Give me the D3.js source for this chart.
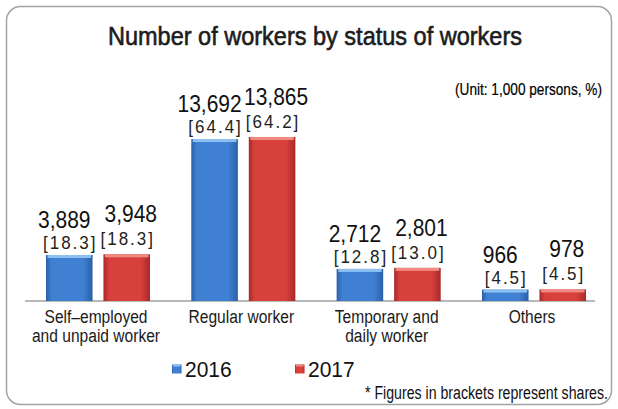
<!DOCTYPE html>
<html>
<head>
<meta charset="utf-8">
<script src="https://cdn.jsdelivr.net/npm/d3@7"></script>
<style>
  html, body { margin: 0; padding: 0; background: #fff; }
  svg { display: block; }
</style>
</head>
<body>
<script>
'use strict';

// chart values
const categories = [
  ["Self\u2013employed", "and unpaid worker"],
  ["Regular worker"],
  ["Temporary and", "daily worker"],
  ["Others"]
];
const years = ["2016", "2017"];
const workers2016 = [3889, 13692, 2712, 966];
const workers2017 = [3948, 13865, 2801, 978];
const shares2016 = ["18.3", "64.4", "12.8", "4.5"];
const shares2017 = ["18.3", "64.2", "13.0", "4.5"];

// no narrow face is installed, so narrow text is squeezed horizontally
const narrow = "'Liberation Sans Narrow', 'Arial Narrow', 'Liberation Sans', sans-serif";
const plain = "'Liberation Sans', Arial, sans-serif";

const svg = d3.select('body')
  .append('svg')
  .attr('width', 618)
  .attr('height', 409);

// gradients for the bevelled bars
const defs = svg.append('defs');
const palette = {
  "2016": { edge: "#2a5fa8", mid: "#3f80d2", top: "#8cc0f0" },
  "2017": { edge: "#a8282a", mid: "#d8403b", top: "#f08a80" }
};
years.forEach((yr) => {
  let g = defs.append('linearGradient')
    .attr('id', 'grad' + yr)
    .attr('x1', '0%').attr('x2', '100%')
    .attr('y1', '0%').attr('y2', '0%');
  g.append('stop').attr('offset', '0%').attr('stop-color', palette[yr].edge);
  g.append('stop').attr('offset', '12%').attr('stop-color', palette[yr].mid);
  g.append('stop').attr('offset', '80%').attr('stop-color', palette[yr].mid);
  g.append('stop').attr('offset', '100%').attr('stop-color', palette[yr].edge);
});

// frame
svg.append('rect')
  .attr('x', 6.5).attr('y', 6.5)
  .attr('width', 605).attr('height', 398)
  .attr('rx', 14).attr('ry', 14)
  .attr('fill', 'none')
  .attr('stroke', '#a3a3a3')
  .attr('stroke-width', 1.5);

// title and unit
svg.append('text')
  .attr('x', 108).attr('y', 45)
  .attr('textLength', 414)
  .attr('lengthAdjust', 'spacingAndGlyphs')
  .style('font-family', narrow)
  .style('font-size', '26px')
  .attr('fill', '#1c1c1c')
  .attr('stroke', '#1c1c1c')
  .attr('stroke-width', 0.6)
  .text("Number of workers by status of workers");

svg.append('text')
  .attr('x', 455).attr('y', 95)
  .attr('textLength', 147)
  .attr('lengthAdjust', 'spacingAndGlyphs')
  .style('font-family', narrow)
  .style('font-size', '17px')
  .attr('fill', '#000')
  .attr('stroke', '#000')
  .attr('stroke-width', 0.2)
  .text("(Unit: 1,000 persons, %)");

// scales
const x0 = d3.scaleBand()
  .domain(d3.range(categories.length))
  .range([25.33, 606.67])
  .paddingInner(0.284)
  .paddingOuter(0.142);

const x1 = d3.scaleBand()
  .domain(years)
  .range([0, x0.bandwidth()])
  .paddingInner(0.19);

const y = d3.scaleLinear()
  .domain([0, 14000])
  .range([301, 135.4]);

// baseline
svg.append('line')
  .attr('x1', 25).attr('x2', 595)
  .attr('y1', y(0)).attr('y2', y(0))
  .attr('stroke', '#a0a0a0')
  .attr('stroke-width', 1.5);

const series = [
  { year: "2016", values: workers2016, shares: shares2016, valOff: 27, shareOff: 6, shift: -5 },
  { year: "2017", values: workers2017, shares: shares2017, valOff: 32, shareOff: 9, shift: 4 }
];

series.forEach((s) => {
  let rows = s.values.map((v, i) => ({ i: i, v: v, share: s.shares[i] }));
  let g = svg.append('g');
  let cx = (d) => x0(d.i) + x1(s.year) + x1.bandwidth() / 2;

  g.selectAll('.bar')
    .data(rows)
    .enter()
    .append('rect')
      .attr('x', (d) => x0(d.i) + x1(s.year))
      .attr('y', (d) => y(d.v))
      .attr('width', x1.bandwidth())
      .attr('height', (d) => y(0) - y(d.v))
      .attr('fill', 'url(#grad' + s.year + ')');

  // lighter top bevel
  g.selectAll('.bevel')
    .data(rows)
    .enter()
    .append('rect')
      .attr('x', (d) => x0(d.i) + x1(s.year) + 1.5)
      .attr('y', (d) => y(d.v))
      .attr('width', x1.bandwidth() - 3)
      .attr('height', 3)
      .attr('fill', palette[s.year].top);

  g.selectAll('.val')
    .data(rows)
    .enter()
    .append('text')
      .attr('transform', (d) => 'translate(' + (cx(d) + s.shift) + ',' + (y(d.v) - s.valOff) + ') scale(1,1.1)')
      .attr('text-anchor', 'middle')
      .style('font-family', plain)
      .style('font-size', '21px')
      .attr('fill', '#111')
      .text((d) => d3.format(",")(d.v));

  g.selectAll('.share')
    .data(rows)
    .enter()
    .append('text')
      .attr('transform', (d) => 'translate(' + (cx(d) + 1) + ',' + (y(d.v) - s.shareOff) + ') scale(1,1.08)')
      .attr('text-anchor', 'middle')
      .style('font-family', plain)
      .style('font-size', '17px')
      .style('letter-spacing', '2px')
      .attr('fill', '#222')
      .text((d) => "[" + d.share + "]");
});

// category labels
const catLabels = svg.append('g');
categories.forEach((lines, i) => {
  let t = catLabels.append('text')
    .attr('transform', 'translate(' + (x0(i) + x0.bandwidth() / 2 - 2) + ',323) scale(0.82,1)')
    .attr('text-anchor', 'middle')
    .style('font-family', narrow)
    .style('font-size', '19px')
    .attr('fill', '#1a1a1a');
  lines.forEach((line, j) => {
    t.append('tspan')
      .attr('x', 0)
      .attr('dy', j === 0 ? 0 : 19.5)
      .text(line);
  });
});

// legend
const legendX = [172, 295];
years.forEach((yr, i) => {
  let lg = svg.append('g').attr('transform', 'translate(' + legendX[i] + ',0)');
  lg.append('rect')
    .attr('x', 0).attr('y', 364.5)
    .attr('width', 9.5).attr('height', 9)
    .attr('fill', 'url(#grad' + yr + ')');
  lg.append('rect')
    .attr('x', 1).attr('y', 364.5)
    .attr('width', 7.5).attr('height', 2)
    .attr('fill', palette[yr].top);
  lg.append('text')
    .attr('transform', 'translate(13,377) scale(1,1.08)')
    .style('font-family', plain)
    .style('font-size', '21px')
    .attr('fill', '#111')
    .text(yr);
});

// footnote
svg.append('text')
  .attr('x', 365).attr('y', 399)
  .attr('textLength', 243)
  .attr('lengthAdjust', 'spacingAndGlyphs')
  .style('font-family', narrow)
  .style('font-size', '18px')
  .attr('fill', '#111')
  .text("* Figures in brackets represent shares.");
</script>
</body>
</html>
